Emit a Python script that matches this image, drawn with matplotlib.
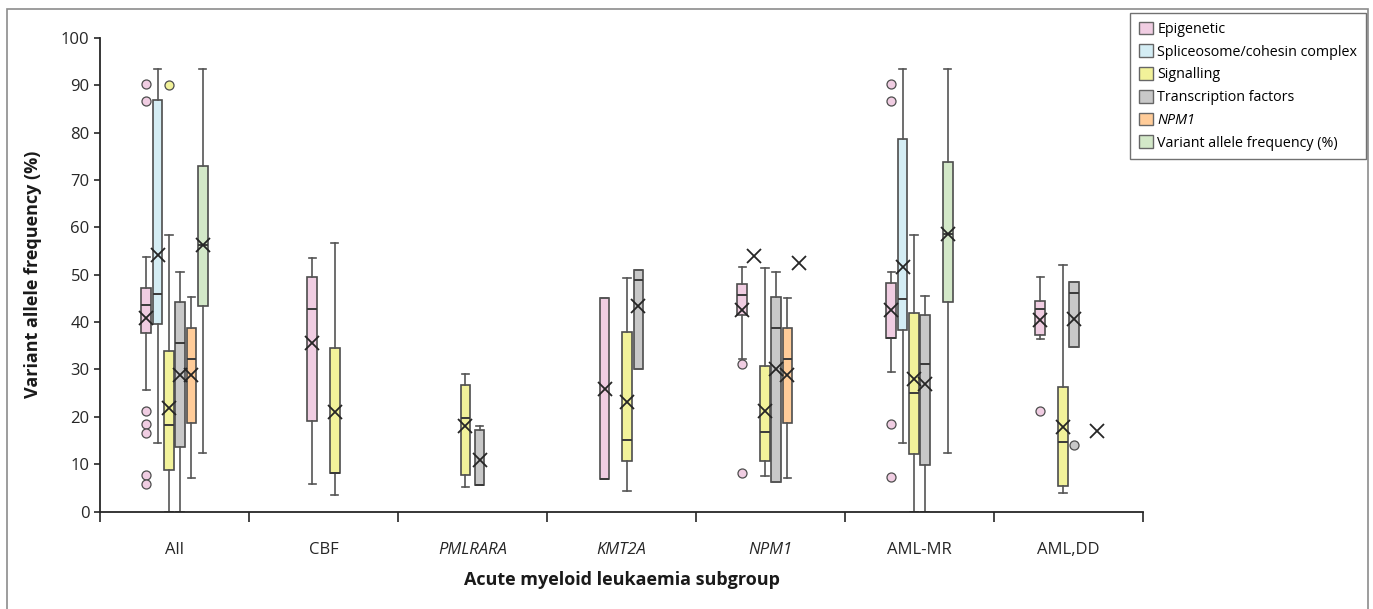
import matplotlib
matplotlib.use('Agg')
import matplotlib.pyplot as plt
from matplotlib.patches import Rectangle, Patch

plt.rcParams['font.family'] = ['Open Sans', 'DejaVu Sans']

groups = ['All', 'CBF', 'PMLRARA', 'KMT2A', 'NPM1', 'AML-MR', 'AML,DD']
italic_groups = ['PMLRARA', 'KMT2A', 'NPM1']
series = ['Epigenetic', 'Spliceosome/cohesin complex', 'Signalling',
          'Transcription factors', 'NPM1', 'Variant allele frequency (%)']

# five-number summaries per group: (whisker low, q1, median, q3, whisker high)
epigenetic_box = [(25.7, 37.6, 43.6, 47.3, 53.8), (5.9, 19.2, 42.7, 49.6, 53.6), None,
                  (6.9, 6.9, 6.9, 45.0, 45.0), (32.3, 41.4, 45.7, 48.1, 51.7),
                  (29.5, 36.7, 36.7, 48.3, 50.5), (36.4, 37.2, 42.8, 44.5, 49.6)]
epigenetic_mean = [40.9, 35.5, None, 25.9, 42.5, 42.5, 40.4]
epigenetic_out = [[90.2, 86.7, 21.2, 18.4, 16.6, 7.8, 5.8], [], [], [], [31.2, 8.1],
                  [90.2, 86.7, 18.5, 7.2], [21.2]]

splice_box = [(14.4, 39.7, 46.0, 87.0, 93.4), None, None, None, None,
              (14.4, 38.4, 44.8, 78.6, 93.4), None]
splice_mean = [54.1, None, None, None, 53.9, 51.7, None]
splice_out = [[], [], [], [], [], [], []]

signal_box = [(0, 8.7, 18.3, 34.0, 58.5), (3.4, 8.2, 8.2, 34.5, 56.7),
              (5.1, 7.8, 19.7, 26.8, 29.0), (4.3, 10.7, 15.0, 38.0, 49.3),
              (7.5, 10.6, 16.8, 30.7, 51.4), (0, 12.2, 25.0, 41.9, 58.5),
              (3.9, 5.4, 14.7, 26.3, 52.1)]
signal_mean = [21.9, 21.1, 18.0, 23.1, 21.2, 28.0, 17.8]
signal_out = [[90.0], [], [], [], [], [], []]

tf_box = [(0, 13.7, 35.6, 44.3, 50.6), None, (5.5, 5.5, 5.5, 17.3, 18.0),
          (30.0, 30.0, 48.8, 51.0, 51.0), (6.3, 6.3, 38.8, 45.2, 50.6),
          (0, 9.9, 31.2, 41.6, 45.6), (34.7, 34.7, 46.2, 48.4, 48.4)]
tf_mean = [28.9, None, 10.8, 43.4, 30.1, 27.0, 40.7]
tf_out = [[], [], [], [], [], [], [14.0]]

npm1_box = [(7.1, 18.7, 32.3, 38.8, 45.2), None, None, None,
            (7.0, 18.7, 32.3, 38.8, 45.1), None, None]
npm1_mean = [28.8, None, None, None, 28.8, None, None]
npm1_out = [[], [], [], [], [], [], []]

vaf_box = [(12.3, 43.3, 56.2, 72.9, 93.4), None, None, None, None,
           (12.3, 44.3, 58.7, 73.9, 93.4), None]
vaf_mean = [56.2, None, None, None, 52.5, 58.7, 17.1]
vaf_out = [[], [], [], [], [], [], []]

boxes = [epigenetic_box, splice_box, signal_box, tf_box, npm1_box, vaf_box]
means = [epigenetic_mean, splice_mean, signal_mean, tf_mean, npm1_mean, vaf_mean]
outs = [epigenetic_out, splice_out, signal_out, tf_out, npm1_out, vaf_out]

colors = ['#f0cde2', '#d4edf4', '#f2f29a', '#c8c8c8', '#ffcc99', '#d3e8c8']

# slot offsets (in slot units) of each series inside each group
default_slots = [-2.5, -1.5, -0.5, 0.5, 1.5, 2.5]
slots = {1: [-1.0, 0, 1.0, 0, 0, 0],
         2: [0, 0, -0.62, 0.62, 0, 0],
         3: [-1.5, 0, 0.5, 1.5, 0, 0]}
slot_w = 0.0758
box_w = 0.066

fig = plt.figure(figsize=(13.73, 6.09), dpi=100)
fig.patches.append(Rectangle((6.5 / 1373, -0.01), (1368 - 6.5) / 1373, 1 - 9 / 609 + 0.01,
                             transform=fig.transFigure, fill=False,
                             edgecolor='#8c8c8c', linewidth=1.2))
ax = fig.add_axes([100 / 1373, 1 - 511.5 / 609, (1143 - 100) / 1373, (511.5 - 38) / 609])

edge = '#4d4d4d'
for s in range(len(series)):
    stats = []
    pos = []
    for g in range(len(groups)):
        off = slots.get(g, default_slots)[s]
        x = g + 0.5 + off * slot_w
        b = boxes[s][g]
        if b is not None:
            stats.append(dict(whislo=b[0], q1=b[1], med=b[2], q3=b[3], whishi=b[4],
                              fliers=outs[s][g]))
            pos.append(x)
        elif outs[s][g]:
            ax.plot([x] * len(outs[s][g]), outs[s][g], 'o', ms=6.5,
                    mfc=colors[s], mec=edge, mew=0.9, zorder=4)
        if means[s][g] is not None:
            ax.plot(x, means[s][g], marker='x', ms=10.5, mew=1.3, color='#262626',
                    zorder=5)
    if stats:
        ax.bxp(stats, positions=pos, widths=box_w, patch_artist=True,
               showfliers=True, manage_ticks=False,
               boxprops=dict(facecolor=colors[s], edgecolor=edge, linewidth=1.2),
               medianprops=dict(color='#3a3a3a', linewidth=1.4),
               whiskerprops=dict(color='#555555', linewidth=1.2),
               capprops=dict(color='#555555', linewidth=1.2),
               capwidths=box_w * 0.75,
               flierprops=dict(marker='o', markersize=6.5, markerfacecolor=colors[s],
                               markeredgecolor=edge, markeredgewidth=0.9))

ax.set_xlim(0, len(groups))
ax.set_ylim(0, 100)
ax.set_yticks(range(0, 101, 10))
ax.tick_params(axis='y', labelsize=12, colors='#262626', length=4, width=1.2)
ax.set_xticks([g + 0.5 for g in range(len(groups))])
ax.set_xticklabels(groups, fontsize=12, color='#262626')
for lbl in ax.get_xticklabels():
    if lbl.get_text() in italic_groups:
        lbl.set_style('italic')
ax.tick_params(axis='x', which='major', length=0, pad=22)
ax.set_xticks(range(len(groups) + 1), minor=True)
ax.tick_params(axis='x', which='minor', length=7, width=1.2, color='#262626')

for side in ['top', 'right']:
    ax.spines[side].set_visible(False)
for side in ['left', 'bottom']:
    ax.spines[side].set_linewidth(1.3)
    ax.spines[side].set_color('#262626')

ax.set_ylabel('Variant allele frequency (%)', fontsize=13, fontweight='bold',
              color='#1a1a1a', labelpad=14)
fig.text((100 + 1143) / 2 / 1373, 1 - 580 / 609, 'Acute myeloid leukaemia subgroup',
         ha='center', va='center', fontsize=13, fontweight='bold', color='#1a1a1a')

handles = [Patch(facecolor=c, edgecolor='#666666', linewidth=1) for c in colors]
leg = fig.legend(handles, series, loc='upper right',
                 bbox_to_anchor=(1366 / 1373, 1 - 13 / 609), fontsize=10.3,
                 frameon=True, fancybox=False, edgecolor='#4d4d4d',
                 handlelength=1.0, handleheight=1.0, handletextpad=0.3,
                 labelspacing=0.52, borderpad=0.6, borderaxespad=0)
leg.get_frame().set_linewidth(1.0)
for t in leg.get_texts():
    if t.get_text() == 'NPM1':
        t.set_style('italic')

fig.savefig('out.png', dpi=100)
